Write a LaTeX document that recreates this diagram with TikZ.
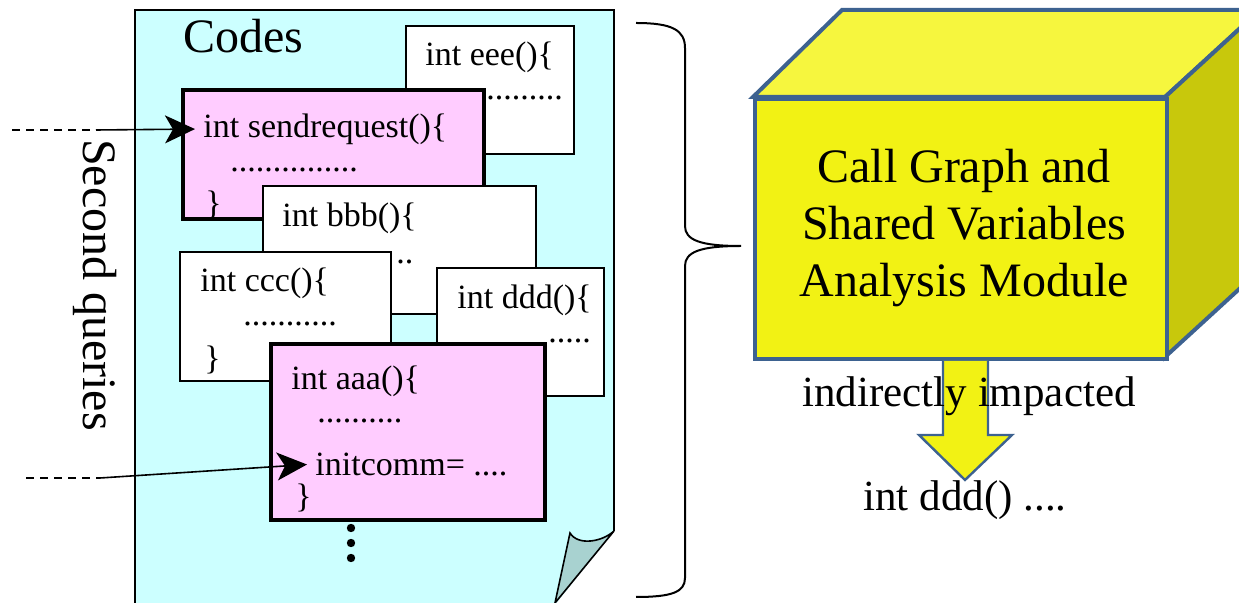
\documentclass[tikz,border=0pt]{standalone}
\usepackage{fontspec}
\setmainfont{Liberation Serif}
\usetikzlibrary{arrows.meta}
\definecolor{pagecyan}{HTML}{CCFFFF}
\definecolor{flapcol}{HTML}{A8D2D0}
\definecolor{pinkbox}{HTML}{FFCCFF}
\definecolor{frontyel}{HTML}{F2F214}
\definecolor{topyel}{HTML}{F6F63E}
\definecolor{sideyel}{HTML}{C8C80C}
\definecolor{cubeline}{HTML}{3D6290}
\tikzset{
  codebox/.style={draw, fill=white, line width=0.8pt, inner sep=0pt, anchor=north west},
  hotbox/.style={draw, fill=pinkbox, line width=1.8pt, inner sep=0pt, anchor=north west},
  code/.style={inner sep=0pt, anchor=west, font=\fontsize{17}{19}\selectfont},
  big/.style={inner sep=0pt, font=\fontsize{24}{28}\selectfont},
  qarrow/.style={line width=0.8pt, shorten >=4pt, -{Stealth[length=15pt,width=14pt,inset=4pt]}},
  qdash/.style={line width=0.8pt, dash pattern=on 4pt off 3pt},
}
\begin{document}
\begin{tikzpicture}[x=0.5pt,y=-0.5pt]
\useasboundingbox (0,0) rectangle (1239,603);
% page
\path[fill=pagecyan] (135,10) -- (614,10) -- (614,531) -- (555,605) -- (135,605) -- cycle;
\draw[line width=0.8pt] (135,606) -- (135,10) -- (614,10) -- (614,531);
\draw[line width=0.8pt, fill=flapcol] (570,533) .. controls (578,546) and (602,542) .. (614,531) -- (555,603) -- cycle;
\node[big, anchor=west] (codes) at (183,36) {Codes};
% boxes
\node[codebox, minimum width=84pt, minimum height=64pt] (eee) at (405,25) {};
\node[code] (eeet) at (425,57) {int eee()\{};
\node[code] (eeed) at (486,98) {.........};
\node[hotbox, minimum width=150.5pt, minimum height=64.5pt] (send) at (181,88) {};
\node[code] (sendt) at (203,129) {int sendrequest()\{};
\node[code] (sendd) at (230,170) {...............};
\node[code] (sendb) at (205,205) {\}};
\node[codebox, minimum width=136.5pt, minimum height=64pt] (bbb) at (262,185) {};
\node[code] (bbbt) at (282,218) {int bbb()\{};
\node[code] (bbbd) at (396,262) {..};
\node[codebox, minimum width=105.5pt, minimum height=64.5pt] (ccc) at (179,251) {};
\node[code] (ccct) at (200,283) {int ccc()\{};
\node[code] (cccd) at (243,324) {...........};
\node[code] (cccb) at (204,360) {\}};
\node[codebox, minimum width=83.5pt, minimum height=64pt] (ddd) at (436,267) {};
\node[code] (dddt) at (457,300) {int ddd()\{};
\node[code] (dddd) at (548,341) {.....};
\node[hotbox, minimum width=137pt, minimum height=88pt] (aaa) at (269,342) {};
\node[code] (aaat) at (291,381) {int aaa()\{};
\node[code] (aaad) at (317,421) {..........};
\node[code] (aaai) at (315,464) {initcomm= ....};
\node[code] (aaab) at (295,498) {\}};
\fill (351,528) circle (4.2) (351,543) circle (4.2) (351,558) circle (4.2);
% queries
\node[big, rotate=-90] (sq) at (95,285) {Second queries};
\coordinate (q1a) at (12,130);
\coordinate (q1b) at (96,130);
\coordinate (q2a) at (26,478);
\coordinate (q2b) at (100,478);
\draw[qdash] (q1a) -- (q1b);
\draw[qarrow] (q1b) -- (sendt.west);
\draw[qdash] (q2a) -- (q2b);
\draw[qarrow] (q2b) -- (aaai.west);
% brace
\coordinate (btop) at (636,23);
\coordinate (bbot) at (636,597);
\coordinate (btip) at (741,246);
\draw[line width=1pt] (btop) .. controls (672,23) and (685,30) .. (685,48) -- (685,226) .. controls (685,240) and (700,246) .. (btip) .. controls (700,246) and (685,252) .. (685,266) -- (685,578) .. controls (685,592) and (672,597) .. (bbot);
% cube
\draw[cubeline, line width=2pt, fill=topyel, line join=miter] (753,97) -- (842,10) -- (1260,10) -- (1165,97) -- cycle;
\draw[cubeline, line width=2pt, fill=sideyel] (1165,97) -- (1260,10) -- (1260,270) -- (1165,357) -- cycle;
\node[draw=cubeline, line width=2pt, fill=frontyel, anchor=north west, inner sep=0pt, minimum width=206pt, minimum height=130pt] (front) at (753,97) {};
\node[big, align=center, font=\fontsize{24}{28.5}\selectfont] (ftext) at (964,228) {Call Graph and\\Shared Variables\\Analysis Module};
\draw[cubeline, line width=1.2pt, fill=frontyel] (front.south -| 943,0) -- (943,435) -- (919,435) -- (965,480) -- (1012,435) -- (988,435) -- (front.south -| 988,0);
\node[inner sep=0pt, font=\fontsize{21.5}{24}\selectfont] (ind) at (969,396) {indirectly impacted};
\node[inner sep=0pt, font=\fontsize{21.5}{24}\selectfont] (res) at (965,500) {int ddd() ....};
\end{tikzpicture}
\end{document}
